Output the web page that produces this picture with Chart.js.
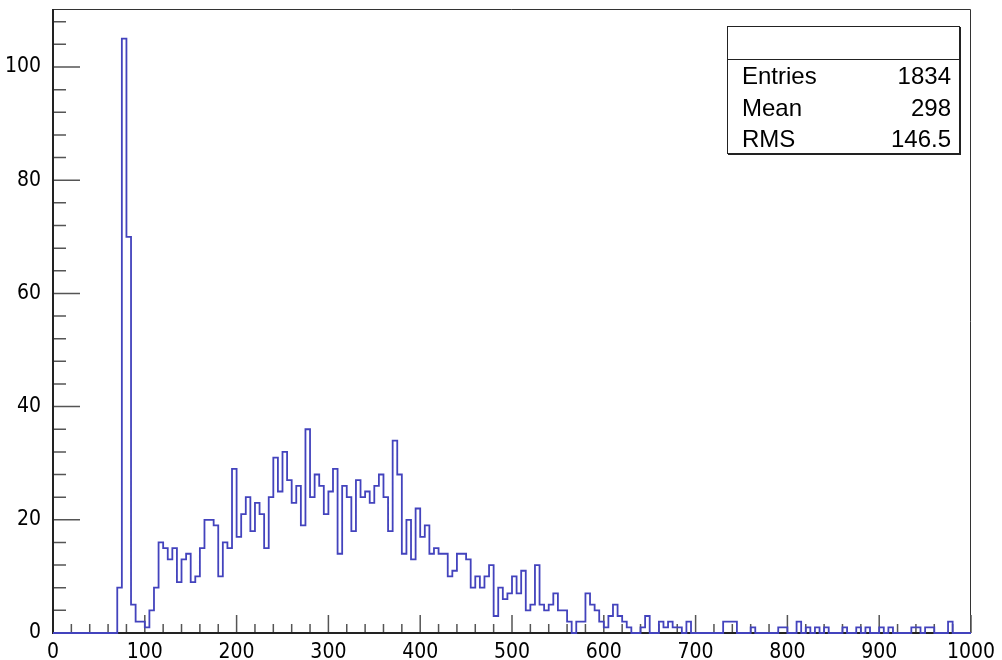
<!DOCTYPE html>
<html><head><meta charset="utf-8">
<script src="https://cdn.jsdelivr.net/npm/chart.js@4"></script>
<style>
html,body{margin:0;padding:0;background:#fff;}
#wrap{position:relative;width:1002px;height:660px;overflow:hidden;}
canvas{display:block;}
#stats{position:absolute;left:727px;top:26px;width:231px;height:126px;border:1px solid #222;box-shadow:1px 1px 0 #222;background:#fff;font-family:"Liberation Sans",Arial,Helvetica,sans-serif;font-size:24px;color:#000;}
#stats .sep{position:absolute;left:0;right:0;top:32px;border-top:1px solid #222;}
#stats .row{position:absolute;left:14px;right:8px;height:32px;line-height:32px;}
#stats .row span.v{position:absolute;right:0;top:0;}
</style>
</head><body>
<div id="wrap">
<canvas id="c" width="1002" height="660"></canvas>
<div id="stats">
  <div class="sep"></div>
  <div class="row" style="top:33px"><span class="k">Entries</span><span class="v" id="sEntries"></span></div>
  <div class="row" style="top:65px"><span class="k">Mean</span><span class="v" id="sMean"></span></div>
  <div class="row" style="top:96px"><span class="k">RMS</span><span class="v" id="sRms"></span></div>
</div>
</div>
<script>
// ---- data ----
const binLow = 0, binWidth = 5, nBins = 200;
const counts = [
  0,0,0,0,0,0,0,0,0,0,      // 0-50
  0,0,0,0,8,105,70,5,2,2,   // 50-100
  1,4,8,16,15,13,15,9,13,14,   // 100-150
  9,10,15,20,20,19,10,16,15,29, // 150-200
  17,21,24,18,23,21,15,24,31,25, // 200-250
  32,27,23,26,19,36,24,28,26,21, // 250-300
  25,29,14,26,24,18,27,24,25,23, // 300-350
  26,28,24,18,34,28,14,20,13,22, // 350-400
  17,19,14,15,14,14,10,11,14,14, // 400-450
  13,8,10,8,10,12,3,8,6,7,       // 450-500
  10,7,11,4,5,12,5,4,5,7,        // 500-550
  4,4,2,0,2,2,7,5,4,2,           // 550-600
  1,3,5,3,2,1,0,0,1,3,           // 600-650
  0,0,2,1,2,1,1,0,2,0,           // 650-700
  0,0,0,0,0,0,2,2,2,0,           // 700-750
  0,0,1,0,0,0,0,0,1,1,           // 750-800
  0,0,2,0,1,0,1,0,1,0,           // 800-850
  0,0,1,0,0,1,0,1,0,0,           // 850-900
  1,0,1,0,0,0,0,1,1,0,           // 900-950
  1,1,0,0,0,2,0,0,0,0            // 950-1000
];
const xTickLabels = [0,100,200,300,400,500,600,700,800,900,1000];
const yTickLabels = [0,20,40,60,80,100];
const xMinorStep = 20, yMinorStep = 4;
const xMin = 0, xMax = 1000, yMin = 0, yMax = 110.25;
const statEntries = "1834", statMean = "298", statRms = "146.5";

document.getElementById('sEntries').textContent = statEntries;
document.getElementById('sMean').textContent = statMean;
document.getElementById('sRms').textContent = statRms;

const pts = counts.map((c,i)=>({x: binLow + i*binWidth, y: c}));
pts.push({x: binLow + nBins*binWidth, y: counts[counts.length-1]});

const tickFont = { family: '"Liberation Sans Narrow", "DejaVu Sans Condensed", "Liberation Sans", Arial, sans-serif', size: 21 };

const frameTicks = {
  id: 'frameTicks',
  beforeDatasetsDraw(chart){
    const {ctx, chartArea:a, scales:{x, y}} = chart;
    ctx.save();
    ctx.strokeStyle = '#333'; ctx.lineWidth = 1;
    ctx.beginPath();
    ctx.moveTo(a.left, a.top+0.5); ctx.lineTo(a.right-0.5, a.top+0.5); ctx.lineTo(a.right-0.5, a.bottom);
    ctx.stroke();
    ctx.strokeStyle = '#555'; ctx.lineWidth = 1.5;
    ctx.beginPath();
    for (let v = xMin; v <= xMax + 1e-9; v += xMinorStep){
      const px = x.getPixelForValue(v);
      const len = xTickLabels.includes(v) ? 18 : 9;
      ctx.moveTo(px, a.bottom); ctx.lineTo(px, a.bottom - len);
    }
    for (let v = yMin; v <= yMax; v += yMinorStep){
      const py = y.getPixelForValue(v);
      const len = yTickLabels.includes(v) ? 27 : 13;
      ctx.moveTo(a.left, py); ctx.lineTo(a.left + len, py);
    }
    ctx.stroke();
    ctx.strokeStyle = '#222'; ctx.lineWidth = 2;
    ctx.beginPath();
    ctx.moveTo(a.left, a.top); ctx.lineTo(a.left, a.bottom); ctx.lineTo(a.right, a.bottom);
    ctx.stroke();
    ctx.restore();
  }
};

new Chart(document.getElementById('c'), {
  type: 'line',
  data: { datasets: [{
    data: pts,
    stepped: 'before',
    borderColor: '#4343bd',
    borderWidth: 1.8,
    pointRadius: 0,
    fill: false,
    tension: 0,
    clip: 4
  }]},
  options: {
    responsive: false,
    animation: false,
    events: [],
    layout: { padding: { top: 9, right: 31, left: 0, bottom: 0 } },
    plugins: { legend: {display:false}, tooltip: {enabled:false}, title:{display:false} },
    scales: {
      x: {
        type: 'linear', min: xMin, max: xMax,
        grid: { display: false }, border: { display: false },
        afterBuildTicks: s => { s.ticks = xTickLabels.map(v=>({value:v})); },
        afterFit: s => { s.height = 27; s.paddingLeft = 0; s.paddingRight = 0; },
        ticks: { autoSkip: false, maxRotation: 0, padding: -1, color: '#000', font: tickFont,
          callback: v => String(v) }
      },
      y: {
        type: 'linear', min: yMin, max: yMax,
        grid: { display: false }, border: { display: false },
        afterBuildTicks: s => { s.ticks = yTickLabels.map(v=>({value:v})); },
        afterFit: s => { s.width = 53; s.paddingTop = 0; s.paddingBottom = 0; },
        ticks: { autoSkip: false, padding: 4, color: '#000', font: tickFont,
          callback: v => String(v) }
      }
    }
  },
  plugins: [frameTicks]
});
</script>
</body></html>
